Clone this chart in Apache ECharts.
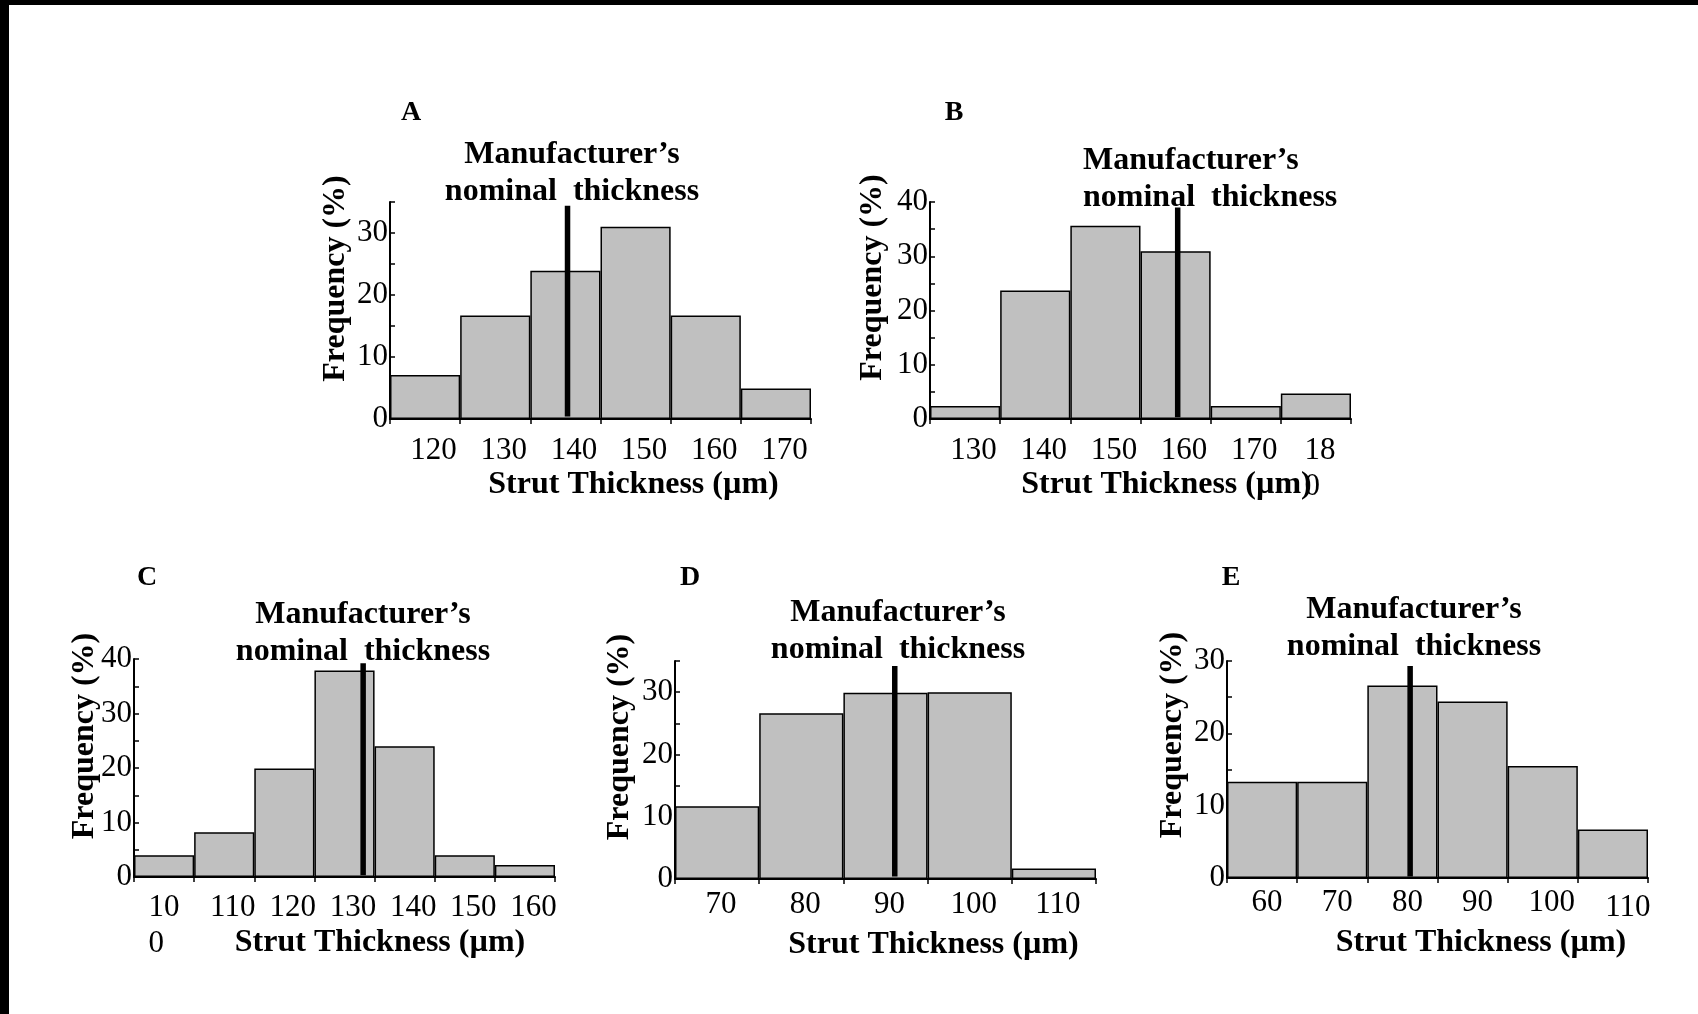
<!DOCTYPE html>
<html>
<head>
<meta charset="utf-8">
<title>Strut thickness histograms</title>
<script src="https://cdn.jsdelivr.net/npm/echarts@6/dist/echarts.min.js"></script>
<style>
html, body { margin: 0; padding: 0; background: #fff; }
#main { width: 1698px; height: 1014px; }
</style>
</head>
<body>
<div id="main"></div>
<script>
// bins (um) and frequencies (%)
var catsA = ['120', '130', '140', '150', '160', '170'];
var freqA = [7.1, 16.7, 23.9, 31.0, 16.7, 4.9];
var catsB = ['130', '140', '150', '160', '170', '18\n0  '];
var freqB = [2.4, 23.7, 35.6, 30.9, 2.4, 4.7];
var catsC = ['10\n0  ', '110', '120', '130', '140', '150', '160'];
var freqC = [4.0, 8.2, 19.9, 37.9, 24.0, 4.0, 2.2];
var catsD = ['70', '80', '90', '100', '110'];
var freqD = [11.7, 26.6, 29.9, 30.0, 1.7];
var catsE = ['60', '70', '80', '90', '100', '110'];
var freqE = [13.3, 13.3, 26.6, 24.4, 15.5, 6.7];

// manufacturer's nominal thickness (um) and the span of its marker (%)
var nominal = [140.3, 160.3, 133.1, 91.1, 81.1];
var nominalSpan = [[0.4, 34.4], [0.3, 39.0], [0.3, 39.2], [0.4, 34.2], [0.2, 29.3]];
// outer bin edges (um) and top of the frequency axis
var xEdges = [[115, 175], [125, 185], [95, 165], [65, 115], [55, 115]];
var yMax = [35, 40, 40, 35, 30];
var letters = ['A', 'B', 'C', 'D', 'E'];

var FONT = 'Liberation Serif';

// layout of every panel (px); odd = per-label padding overrides
var panels = [
  {cats: catsA, freq: freqA, left: 390, top: 202, width: 421, height: 217, labMargin: 14, labPad: 17,
   xGap: 50, xShift: 66, yGap: 38, yShift: 64, letter: [411, 113], note: [572, 173], noteAlign: 'center', odd: {}},
  {cats: catsB, freq: freqB, left: 930, top: 202, width: 421, height: 217, labMargin: 14, labPad: 17,
   xGap: 50, xShift: 52, yGap: 41, yShift: 66, letter: [954, 113], note: [1083, 179], noteAlign: 'left',
   odd: {5: [0, 0, 0, 8]}},
  {cats: catsC, freq: freqC, left: 134, top: 659, width: 421, height: 218, labMargin: 13, labPad: 17,
   xGap: 50, xShift: 71, yGap: 33, yShift: 64, letter: [147, 578], note: [363, 633], noteAlign: 'center',
   odd: {0: [0, 0, 0, 0]}},
  {cats: catsD, freq: freqD, left: 675, top: 661, width: 421, height: 218, labMargin: 8, labPad: 8,
   xGap: 50, xShift: 96, yGap: 39, yShift: 66, letter: [690, 578], note: [898, 631], noteAlign: 'center', odd: {}},
  {cats: catsE, freq: freqE, left: 1227, top: 661, width: 421, height: 217, labMargin: 7, labPad: 10,
   xGap: 49, xShift: 87, yGap: 38, yShift: 69, letter: [1231, 578], note: [1414, 628], noteAlign: 'center',
   odd: {4: [0, 0, 0, 18], 5: [5, 0, 0, 30]}}
];

var grid = [], xAxis = [], yAxis = [], series = [], graphic = [];

// black frame remnants at top / left edge
graphic.push({type: 'rect', shape: {x: 0, y: 0, width: 1698, height: 5}, style: {fill: '#000'}});
graphic.push({type: 'rect', shape: {x: 0, y: 0, width: 9, height: 1014}, style: {fill: '#000'}});

panels.forEach(function (p, k) {
  grid.push({left: p.left, top: p.top, width: p.width, height: p.height, containLabel: false});

  var catData = p.cats.map(function (c, i) {
    if (p.odd[i]) return {value: c, textStyle: {padding: p.odd[i]}};
    return c;
  });

  xAxis.push({
    type: 'category', gridIndex: k, data: catData,
    axisLine: {lineStyle: {color: '#000', width: 2}},
    axisTick: {show: true, length: 5, lineStyle: {color: '#000', width: 1.5}},
    axisLabel: {interval: 0, margin: p.labMargin, color: '#000', fontSize: 31, fontFamily: FONT,
      lineHeight: 36, padding: [0, 0, 0, p.labPad], hideOverlap: false},
    name: 'Strut Thickness (\u00b5m)', nameLocation: 'middle', nameGap: p.xGap, nameMoveOverlap: false,
    nameTextStyle: {color: '#000', fontSize: 32, fontWeight: 'bold', fontFamily: FONT,
      padding: [0, 0, 0, p.xShift]}
  });
  // hidden um scale, used to place the nominal marker
  xAxis.push({type: 'value', gridIndex: k, min: xEdges[k][0], max: xEdges[k][1], show: false});

  yAxis.push({
    type: 'value', gridIndex: k, min: 0, max: yMax[k], interval: 5,
    axisLine: {show: true, lineStyle: {color: '#000', width: 2}},
    axisTick: {show: true, inside: true, length: 5, lineStyle: {color: '#000', width: 1.5}},
    splitLine: {show: false},
    axisLabel: {margin: 2, color: '#000', fontSize: 31, fontFamily: FONT,
      formatter: function (v) { return v % 10 === 0 ? v : ''; }},
    name: 'Frequency (%)', nameLocation: 'middle', nameGap: p.yGap, nameMoveOverlap: false,
    nameTextStyle: {color: '#000', fontSize: 32, fontWeight: 'bold', fontFamily: FONT,
      padding: [0, 0, 0, p.yShift]}
  });

  series.push({
    type: 'bar', xAxisIndex: 2 * k, yAxisIndex: k, data: p.freq,
    barCategoryGap: '0%',
    itemStyle: {color: '#c0c0c0', borderColor: '#000', borderWidth: 1.5}
  });
  series.push({
    type: 'line', xAxisIndex: 2 * k + 1, yAxisIndex: k, z: 5,
    data: [[nominal[k], nominalSpan[k][0]], [nominal[k], nominalSpan[k][1]]],
    symbol: 'none', lineStyle: {color: '#000', width: 5.5}
  });

  graphic.push({type: 'text', x: p.letter[0], y: p.letter[1],
    style: {text: letters[k], font: 'bold 28px "' + FONT + '"', fill: '#000',
      textAlign: 'center', textVerticalAlign: 'middle'}});
  graphic.push({type: 'text', x: p.note[0], y: p.note[1],
    style: {text: 'Manufacturer\u2019s\nnominal  thickness', font: 'bold 32px "' + FONT + '"',
      lineHeight: 37, fill: '#000', textAlign: p.noteAlign, textVerticalAlign: 'middle'}});
});

var chart = echarts.init(document.getElementById('main'));
chart.setOption({
  animation: false,
  backgroundColor: '#fff',
  grid: grid,
  xAxis: xAxis,
  yAxis: yAxis,
  series: series,
  graphic: graphic
});
</script>
</body>
</html>
